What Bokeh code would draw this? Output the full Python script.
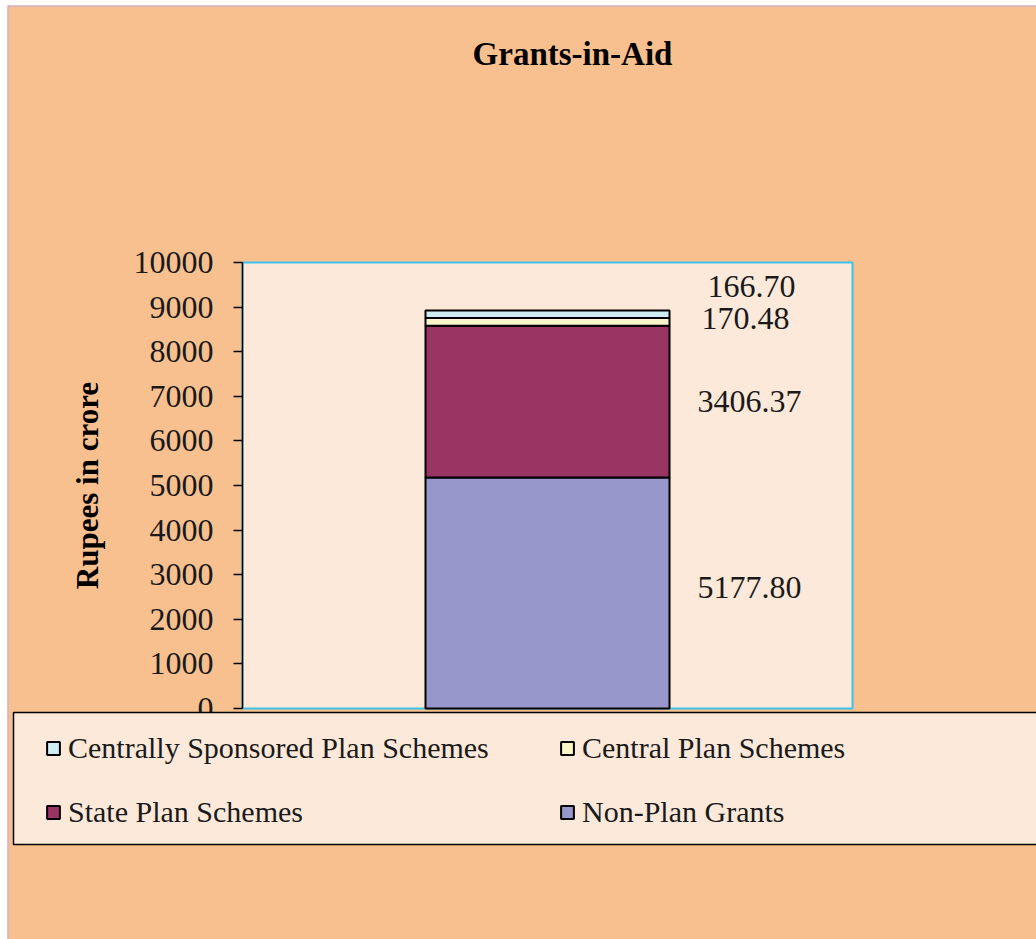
from bokeh.plotting import figure
from bokeh.models import (Range1d, Legend, LegendItem, ColumnDataSource, LinearAxis,
                          SingleIntervalTicker, Label, BoxAnnotation, Span)
from bokeh.core.properties import value
from bokeh.embed import file_html
from bokeh.resources import INLINE

# ---- data ----
category = ["Grants-in-Aid"]
series = ["Non-Plan Grants", "State Plan Schemes", "Central Plan Schemes",
          "Centrally Sponsored Plan Schemes"]
values = [5177.80, 3406.37, 170.48, 166.70]
colors = ["#9797CB", "#993463", "#FBF6CA", "#CFEBF3"]
label_texts = ["5177.80", "3406.37", "170.48", "166.70"]
title_text = "Grants-in-Aid"
y_label = "Rupees in crore"
Y_MAX = 10000
Y_STEP = 1000

# ---- layout constants (pixels) ----
FONT = "Liberation Serif"
BG = "#F9C08F"
PLOT_BG = "#FDE9D9"
W, H = 1036, 939
FL, FT = 7, 5            # frame (chart area) left / top
PL, PR, PT, PB = 242, 852, 262, 708   # plot area
LEG_L, LEG_T, LEG_B = 13, 712, 844    # legend box
px_x = 1.0 / (PR - PL)           # data units per px (x)
px_y = Y_MAX / (PB - PT)         # data units per px (y)

def dx(px):
    return (px - PL) * px_x

def dy(py):
    return (PB - py) * px_y

x_range = Range1d(dx(FL), dx(W))
y_range = Range1d(dy(H), dy(FT))

p = figure(width=W, height=H, x_range=x_range, y_range=y_range,
           x_axis_type=None, y_axis_type=None, output_backend="svg",
           toolbar_location=None, min_border_left=FL, min_border_top=FT,
           min_border_right=0, min_border_bottom=0)
p.background_fill_color = BG
p.border_fill_color = "white"
p.outline_line_color = None

# chart-area edge lines (left / top)
p.add_layout(Span(location=dx(FL), dimension="height", line_color="#C2A8D8",
                  line_width=2))
p.add_layout(Span(location=dy(FT), dimension="width", line_color="#C2A8D8",
                  line_width=2))

# plot area
p.add_layout(BoxAnnotation(left=0, right=1, bottom=0, top=Y_MAX,
                           fill_color=PLOT_BG, fill_alpha=1,
                           line_color="#3CC3EC", line_alpha=1, line_width=2,
                           level="underlay"))

# stacked bar
xpos = [i + 0.5 for i in range(len(category))]
data = {"x": xpos}
for s, v in zip(series, values):
    data[s] = [v]
src = ColumnDataSource(data)
rends = p.vbar_stack(series, x="x", width=0.4, source=src, color=colors,
                     line_color="black", line_width=2)

# data labels at segment centres
label_dx = [202, 202, 198, 204]
label_dy = [-6, 0, -3, -28]
cum = 0
for v, t, ox, oy in zip(values, label_texts, label_dx, label_dy):
    lsrc = ColumnDataSource(dict(x=[xpos[0]], y=[cum + v / 2], t=[t]))
    p.text(x="x", y="y", text="t", source=lsrc, x_offset=ox, y_offset=oy,
           text_align="center", text_baseline="middle", text_font=value(FONT),
           text_font_size="32px", text_color="#1a1a1a")
    cum += v

# y axis drawn at the plot area's left edge
yax = LinearAxis(fixed_location=0, bounds=(0, Y_MAX),
                 ticker=SingleIntervalTicker(interval=Y_STEP))
yax.axis_line_color = "black"
yax.axis_line_width = 1.5
yax.major_tick_line_color = "black"
yax.major_tick_line_width = 1.5
yax.major_tick_out = 9
yax.major_tick_in = 0
yax.minor_tick_line_color = None
yax.major_label_text_font = FONT
yax.major_label_text_font_size = "32px"
yax.major_label_text_color = "#1a1a1a"
yax.major_label_standoff = 20
yax.axis_label = y_label
yax.axis_label_text_font = FONT
yax.axis_label_text_font_style = "bold"
yax.axis_label_text_font_size = "31px"
yax.axis_label_text_color = "black"
yax.axis_label_standoff = 26
p.add_layout(yax, "left")

# title
p.add_layout(Label(x=dx(572), y=dy(53), text=title_text, text_align="center",
                   text_baseline="middle", text_font=FONT, text_font_style="bold",
                   text_font_size="33px", text_color="black"))

# legend box
p.add_layout(BoxAnnotation(left=dx(LEG_L), right=dx(W + 6), top=dy(LEG_T),
                           bottom=dy(LEG_B), fill_color=PLOT_BG, fill_alpha=1,
                           line_color="black", line_alpha=1, line_width=1.5))

# legend entries (no border -> no padding)
order = [3, 2, 1, 0]
items = [LegendItem(label=series[i], renderers=[rends[i]]) for i in order]
SP, ROW = 28, 36
leg_h = 2 * ROW + SP
leg_top = 748 - ROW // 2
leg = Legend(items=items, ncols=2, orientation="horizontal",
             location=(45 - FL, H - leg_top - leg_h))
leg.label_text_font = FONT
leg.label_text_font_size = "30px"
leg.label_text_color = "#1a1a1a"
leg.glyph_width = 16
leg.glyph_height = 16
leg.label_standoff = 7
leg.label_width = 463
leg.label_height = ROW
leg.spacing = SP
leg.padding = 0
leg.margin = 0
leg.background_fill_alpha = 0
leg.border_line_color = None
p.add_layout(leg, "center")

open("out.html", "w").write(file_html(p, INLINE))
